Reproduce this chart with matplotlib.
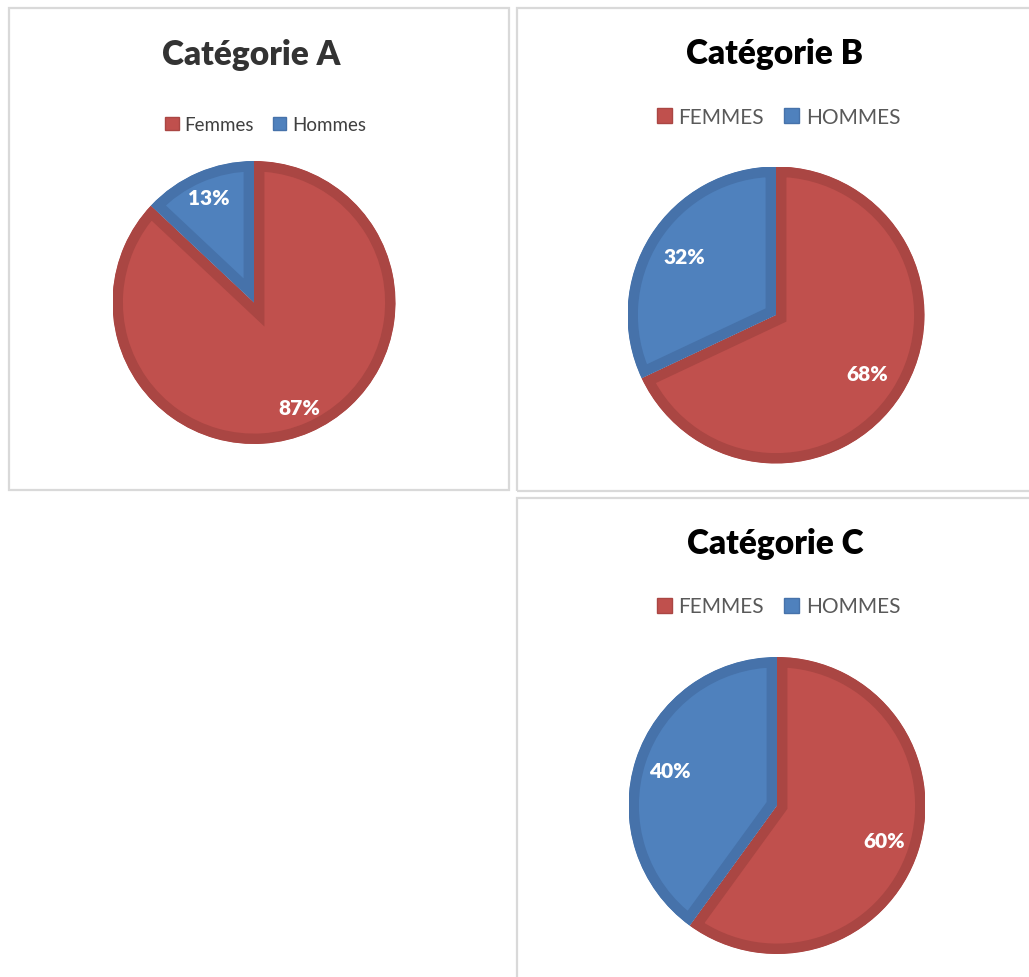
import matplotlib
matplotlib.use('Agg')
import matplotlib.pyplot as plt
from matplotlib.patches import Rectangle, Patch

plt.rcParams['font.family'] = ['Lato', 'DejaVu Sans']

# data
titles = ['Catégorie A', 'Catégorie B', 'Catégorie C']
labels_a = ['Femmes', 'Hommes']
labels_bc = ['FEMMES', 'HOMMES']
femmes = [87, 68, 60]
hommes = [13, 32, 40]

W, H = 1029, 978
fig = plt.figure(figsize=(W / 100, H / 100), dpi=100)

FILL = ['#C0504D', '#4F81BD']
EDGE = ['#AA4643', '#4672AA']


def fx(px):
    return px / W


def fy(py):
    return 1 - py / H


# panel borders (pixel boxes: left, top, right, bottom)
for l, t, r, b in [(9, 9, 509, 491), (517, 9, 1040, 492), (517, 499, 1040, 990)]:
    fig.patches.append(Rectangle((fx(l), fy(b)), fx(r - l), (b - t) / H,
                                 transform=fig.transFigure, fill=False,
                                 edgecolor='#D9D9D9', linewidth=1.6))

# per panel layout: pie centre, radius, title baseline, legend centre, pct distance
panels = [
    dict(cx=254, cy=303.5, r=141.5, ty=65, tx=251, lx=265.5, ly=125.5,
         labels=labels_a, tcol='#333333', lcol='#404040', lsize=13.5, pd=0.81),
    dict(cx=776, cy=316, r=148.5, ty=64, tx=774, lx=778.5, ly=117.5,
         labels=labels_bc, tcol='#000000', lcol='#595959', lsize=15, pd=0.73),
    dict(cx=777, cy=806.5, r=148.5, ty=554, tx=775, lx=778.5, ly=607.5,
         labels=labels_bc, tcol='#000000', lcol='#595959', lsize=15, pd=0.76),
]

for i, p in enumerate(panels):
    r = p['r']
    ax = fig.add_axes([fx(p['cx'] - r), fy(p['cy'] + r), 2 * r / W, 2 * r / H])
    vals = [femmes[i], hommes[i]]
    wedges, texts, autotexts = ax.pie(
        vals, colors=FILL, startangle=90, counterclock=False,
        autopct='%1.0f%%', pctdistance=p['pd'],
        textprops=dict(color='white', fontweight='heavy', fontsize=15))
    # inner border: thick edge clipped to the wedge itself
    for w, ec in zip(wedges, EDGE):
        w.set_edgecolor(ec)
        w.set_linewidth(15)
        w.set_clip_path(w)
        w.set_clip_on(True)
    ax.set_xlim(-1, 1)
    ax.set_ylim(-1, 1)
    ax.set_aspect('auto')
    ax.axis('off')

    fig.text(fx(p['tx']), fy(p['ty']), titles[i], ha='center', va='baseline',
             fontsize=24, fontweight='heavy', color=p['tcol'])

    handles = [Patch(facecolor=FILL[k], edgecolor=EDGE[k], label=p['labels'][k])
               for k in range(2)]
    fig.legend(handles=handles, loc='center', bbox_to_anchor=(fx(p['lx']), fy(p['ly'])),
               ncol=2, frameon=False, fontsize=p['lsize'], labelcolor=p['lcol'],
               handlelength=0.72, handleheight=0.72, handletextpad=0.3,
               columnspacing=1.0, borderpad=0, borderaxespad=0)

fig.savefig('out.png', dpi=100, facecolor='white')
